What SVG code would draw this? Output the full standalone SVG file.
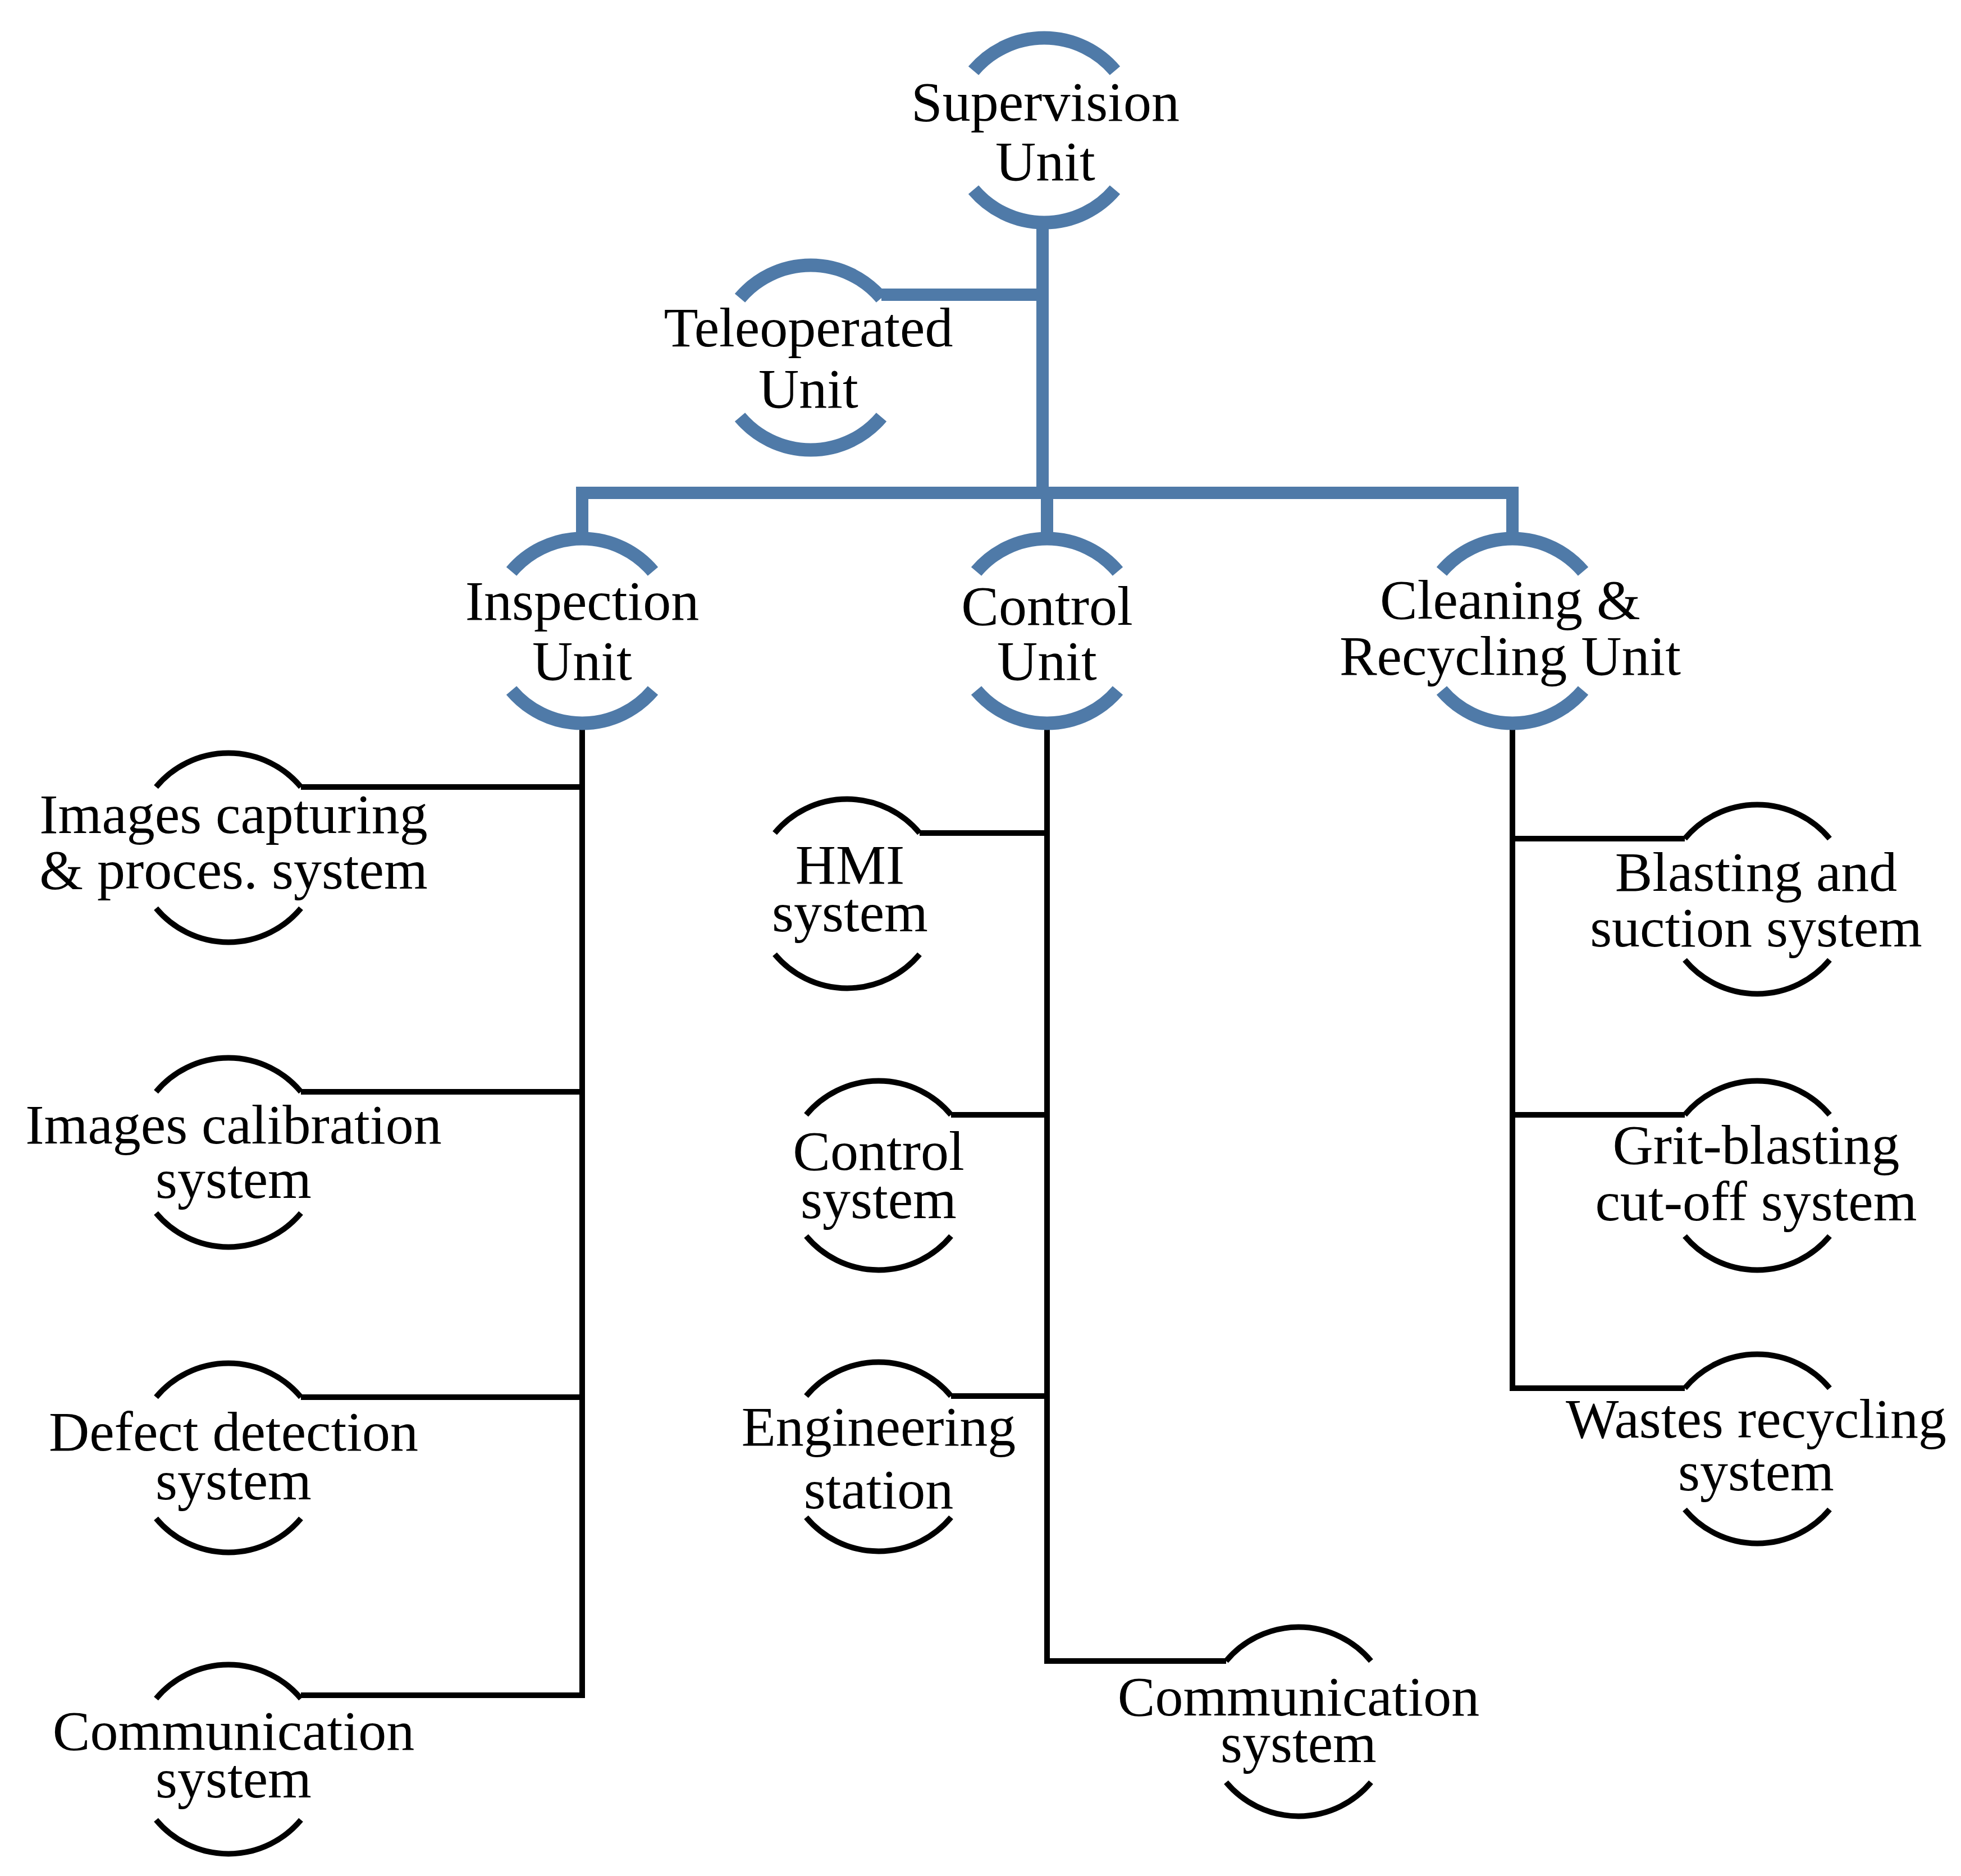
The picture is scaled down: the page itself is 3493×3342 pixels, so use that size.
<svg xmlns="http://www.w3.org/2000/svg" width="3493" height="3342" viewBox="0 0 3493 3342">
<style>
.b{fill:none;stroke:#4f7aa8;stroke-width:24}
.k{fill:none;stroke:#000;stroke-width:10}
.bl{fill:none;stroke:#4f7aa8;stroke-width:22}
.kl{fill:none;stroke:#000;stroke-width:10}
text{font-family:"Liberation Serif","Times New Roman",serif;font-size:100px;fill:#000;text-anchor:middle}
</style>
<rect width="3493" height="3342" fill="#fff"/>
<g id="connectors">
<path class="bl" d="M1857 397V878M1570 525H1857M1037 958V878H2694V958M1865 878V958"/>
<path class="kl" d="M1037 1290V3020M536 1402H1037M536 1945H1037M536 2489H1037M536 3020H1042"/>
<path class="kl" d="M1865 1290V2959H2184M1638 1484H1865M1694 1986H1865M1694 2487H1865"/>
<path class="kl" d="M2694 1290V2473M2694 1494H3001M2694 1986H3001M2689 2473H3001"/>
</g>
<g id="supervision"><path class="b" d="M1734 126A165 165 0 0 1 1986 126M1734 338A165 165 0 0 0 1986 338"/><text x="1862" y="215">Supervision</text><text x="1862" y="321">Unit</text></g>
<g id="teleoperated"><path class="b" d="M1318 531A165 165 0 0 1 1570 531M1318 743A165 165 0 0 0 1570 743"/><text x="1440" y="617">Teleoperated</text><text x="1440" y="726">Unit</text></g>
<g id="inspection"><path class="b" d="M911 1018A165 165 0 0 1 1163 1018M911 1230A165 165 0 0 0 1163 1230"/><text x="1037" y="1104">Inspection</text><text x="1037" y="1211">Unit</text></g>
<g id="control"><path class="b" d="M1739 1018A165 165 0 0 1 1991 1018M1739 1230A165 165 0 0 0 1991 1230"/><text x="1865" y="1113">Control</text><text x="1865" y="1211">Unit</text></g>
<g id="cleaning"><path class="b" d="M2568 1018A165 165 0 0 1 2820 1018M2568 1230A165 165 0 0 0 2820 1230"/><text x="2690" y="1102">Cleaning &amp;</text><text x="2690" y="1202">Recycling Unit</text></g>
<g id="images-capturing"><path class="k" d="M278 1402A168 168 0 0 1 536 1402M278 1618A168 168 0 0 0 536 1618"/><text x="416" y="1484">Images capturing</text><text x="416" y="1583">&amp; proces. system</text></g>
<g id="images-calibration"><path class="k" d="M278 1945A168 168 0 0 1 536 1945M278 2161A168 168 0 0 0 536 2161"/><text x="416" y="2037">Images calibration</text><text x="416" y="2134">system</text></g>
<g id="defect"><path class="k" d="M278 2489A168 168 0 0 1 536 2489M278 2705A168 168 0 0 0 536 2705"/><text x="416" y="2584">Defect detection</text><text x="416" y="2671">system</text></g>
<g id="comm-left"><path class="k" d="M278 3026A168 168 0 0 1 536 3026M278 3242A168 168 0 0 0 536 3242"/><text x="416" y="3117">Communication</text><text x="416" y="3202">system</text></g>
<g id="hmi"><path class="k" d="M1380 1484A168 168 0 0 1 1638 1484M1380 1700A168 168 0 0 0 1638 1700"/><text x="1514" y="1574">HMI</text><text x="1514" y="1659">system</text></g>
<g id="control-system"><path class="k" d="M1436 1986A168 168 0 0 1 1694 1986M1436 2202A168 168 0 0 0 1694 2202"/><text x="1565" y="2084">Control</text><text x="1565" y="2170">system</text></g>
<g id="engineering"><path class="k" d="M1436 2487A168 168 0 0 1 1694 2487M1436 2703A168 168 0 0 0 1694 2703"/><text x="1565" y="2575">Engineering</text><text x="1565" y="2687">station</text></g>
<g id="comm-mid"><path class="k" d="M2184 2959A168 168 0 0 1 2442 2959M2184 3175A168 168 0 0 0 2442 3175"/><text x="2313" y="3056">Communication</text><text x="2313" y="3139">system</text></g>
<g id="blasting"><path class="k" d="M3001 1494A168 168 0 0 1 3259 1494M3001 1710A168 168 0 0 0 3259 1710"/><text x="3128" y="1587">Blasting and</text><text x="3128" y="1686">suction system</text></g>
<g id="grit"><path class="k" d="M3001 1986A168 168 0 0 1 3259 1986M3001 2202A168 168 0 0 0 3259 2202"/><text x="3128" y="2073">Grit-blasting</text><text x="3128" y="2174">cut-off system</text></g>
<g id="wastes"><path class="k" d="M3001 2473A168 168 0 0 1 3259 2473M3001 2689A168 168 0 0 0 3259 2689"/><text x="3128" y="2561">Wastes recycling</text><text x="3128" y="2655">system</text></g>
</svg>
